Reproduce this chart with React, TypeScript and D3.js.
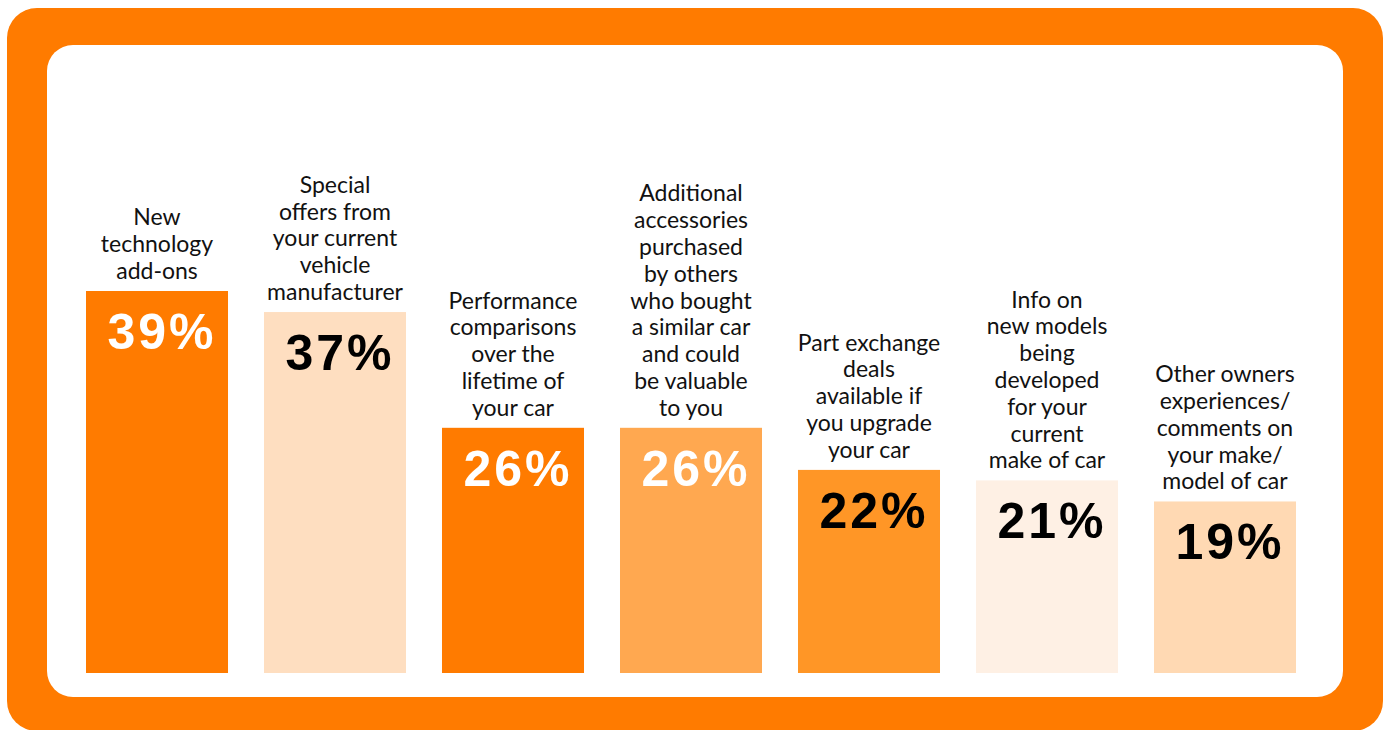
import React from "react";
import * as d3 from "d3";

const categories: string[][] = [
  ["New", "technology", "add-ons"],
  ["Special", "offers from", "your current", "vehicle", "manufacturer"],
  ["Performance", "comparisons", "over the", "lifetime of", "your car"],
  ["Additional", "accessories", "purchased", "by others", "who bought", "a similar car", "and could", "be valuable", "to you"],
  ["Part exchange", "deals", "available if", "you upgrade", "your car"],
  ["Info on", "new models", "being", "developed", "for your", "current", "make of car"],
  ["Other owners", "experiences/", "comments on", "your make/", "model of car"],
];
const values: number[] = [39, 37, 26, 26, 22, 21, 19];
const valueLabels: string[] = ["39%", "37%", "26%", "26%", "22%", "21%", "19%"];

const barColors = ["#FF7B00", "#FEDEC0", "#FF7B00", "#FFA850", "#FF9626", "#FEF0E4", "#FFD9B3"];
const labelColors = ["#ffffff", "#000000", "#ffffff", "#ffffff", "#000000", "#000000", "#000000"];

const W = 1390;
const H = 730;
const baseY = 673;

export default function App() {
  const ids = values.map((_, i) => String(i));
  const x = d3.scaleBand<string>().domain(ids).range([86, 1296]).paddingInner(0.2022).paddingOuter(0);
  const y = d3.scaleLinear().domain([2.7, 39]).range([baseY, 291]);
  const lineH = 26.8;

  return (
    <svg width={W} height={H} style={{ position: "absolute", left: 0, top: 0 }}>
      <rect x={0} y={0} width={W} height={H} fill="#ffffff" />
      <rect x={7} y={8} width={1376} height={723} rx={30} ry={30} fill="#FF7B00" />
      <rect x={47} y={45} width={1296} height={652} rx={26} ry={26} fill="#ffffff" />
      {values.map((v, i) => {
        const bx = x(ids[i]) as number;
        const bw = x.bandwidth();
        const top = y(v);
        const cx = bx + bw / 2;
        const lines = categories[i];
        const lastBase = top - 12;
        return (
          <g key={i}>
            <rect x={bx} y={top} width={bw} height={baseY - top} fill={barColors[i]} />
            <text
              x={cx + 5}
              y={top + 58}
              textAnchor="middle"
              fontFamily="'Liberation Sans', Arial, sans-serif"
              fontWeight="bold"
              fontSize={50}
              letterSpacing={3}
              fill={labelColors[i]}
            >
              {valueLabels[i]}
            </text>
            <text
              textAnchor="middle"
              fontFamily="Lato, sans-serif"
              fontSize={23}
              fill="#111111"
            >
              {lines.map((ln, j) => (
                <tspan key={j} x={cx} y={lastBase - (lines.length - 1 - j) * lineH}>
                  {ln}
                </tspan>
              ))}
            </text>
          </g>
        );
      })}
    </svg>
  );
}
